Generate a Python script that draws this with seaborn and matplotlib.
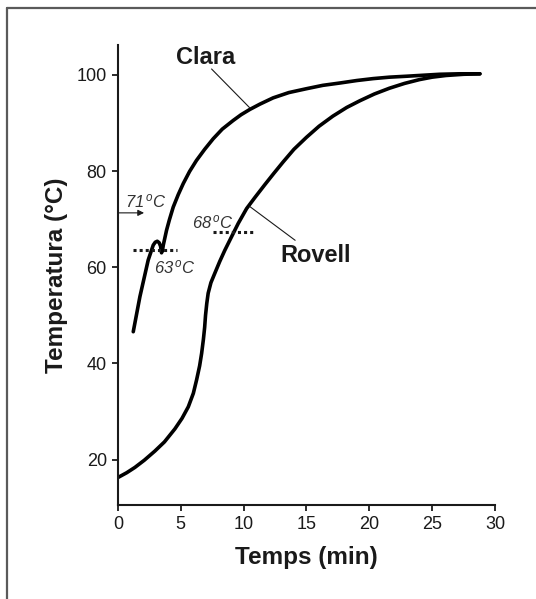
import numpy as np
import pandas as pd
import seaborn as sns
import matplotlib
matplotlib.use("Agg")
import matplotlib.pyplot as plt
from matplotlib.lines import Line2D

# ---- data ----
clara_t = [1.22, 1.75, 2.41, 2.81, 2.97, 3.13, 3.28, 3.39, 3.47, 3.55, 3.61, 3.87, 4.1, 4.4, 4.8,
           5.2, 5.7, 6.25, 6.9, 7.58, 8.3, 9.17, 9.8, 10.5, 11.3, 12.35, 13.6, 15.0, 16.3, 17.7,
           19.0, 20.3, 21.6, 23.0, 24.3, 25.6, 27.2, 28.8]
clara_T = [46.6, 53.9, 61.5, 64.6, 65.2, 65.4, 65.1, 64.4, 63.0, 63.6, 64.6, 67.7, 69.9, 72.5, 75.1,
           77.4, 79.9, 82.2, 84.5, 86.7, 88.7, 90.5, 91.7, 92.8, 93.9, 95.2, 96.3, 97.1, 97.8, 98.3,
           98.8, 99.2, 99.5, 99.7, 99.9, 100.1, 100.2, 100.2]
rovell_t = [0.0, 0.7, 1.35, 2.1, 2.94, 3.7, 4.53, 5.1, 5.6, 6.0, 6.26, 6.5, 6.66, 6.8, 6.9, 6.97,
            7.07, 7.18, 7.4, 7.7, 8.1, 8.5, 8.9, 9.57, 10.24, 10.9, 11.7, 12.4, 13.15, 14.0, 15.0,
            16.0, 17.1, 18.2, 19.25, 20.4, 21.6, 22.8, 24.0, 25.0, 26.1, 27.5, 28.8]
rovell_T = [16.3, 17.3, 18.4, 19.9, 21.8, 23.7, 26.4, 28.6, 31.0, 33.8, 36.6, 39.5, 42.1, 45.0, 47.5, 50.0,
            52.5, 54.6, 56.8, 58.7, 61.2, 63.5, 65.6, 69.1, 72.2, 74.5, 77.2, 79.5, 81.9, 84.5, 87.0,
            89.3, 91.4, 93.2, 94.6, 96.0, 97.2, 98.2, 99.0, 99.5, 99.85, 100.1, 100.2]
labels = ["Clara", "Rovell"]
x_ticks = [0, 5, 10, 15, 20, 25, 30]
y_ticks = [20, 40, 60, 80, 100]
mark_temps = [71, 63, 68]

df = pd.concat([
    pd.DataFrame({"Temps": clara_t, "Temp": clara_T, "serie": labels[0]}),
    pd.DataFrame({"Temps": rovell_t, "Temp": rovell_T, "serie": labels[1]}),
])

sns.set_theme(style="ticks")
plt.rcParams["font.family"] = ["Liberation Sans", "DejaVu Sans"]
plt.rcParams["mathtext.fontset"] = "custom"
plt.rcParams["mathtext.it"] = "Liberation Sans:italic"
plt.rcParams["mathtext.rm"] = "Liberation Sans"

INK = "#1a1a1a"
fig = plt.figure(figsize=(5.36, 5.99), dpi=100)
ax = fig.add_axes([0.220, 0.157, 0.7035, 0.768])

sns.lineplot(data=df, x="Temps", y="Temp", units="serie", estimator=None, sort=False,
             color="black", lw=2.6, ax=ax, legend=False)
for ln in ax.get_lines():
    ln.set_solid_joinstyle("round")
    ln.set_solid_capstyle("round")

ax.set_xlim(0, 30)
ax.set_ylim(10.6, 106.2)
ax.set_xticks(x_ticks)
ax.set_yticks(y_ticks)
ax.tick_params(axis="both", labelsize=13, length=4, width=1.3, color=INK, labelcolor=INK, pad=4)
sns.despine(ax=ax)
for s in ["left", "bottom"]:
    ax.spines[s].set_linewidth(1.5)
    ax.spines[s].set_color(INK)

ax.set_xlabel("Temps (min)", fontsize=17.5, fontweight="bold", color=INK, labelpad=9)
ax.set_ylabel("Temperatura (°C)", fontsize=17.5, fontweight="bold", color=INK, labelpad=6)

# series labels with leader lines
ax.text(7.0, 103.5, labels[0], fontsize=17, fontweight="bold", color=INK, ha="center", va="center")
ax.plot([7.45, 10.5], [101.2, 93.1], color=INK, lw=0.8)
ax.text(15.7, 62.5, labels[1], fontsize=17, fontweight="bold", color=INK, ha="center", va="center")
ax.plot([14.1, 10.5], [65.6, 72.6], color=INK, lw=0.8)

def deg(v):
    return "%d$\\,^{\\mathit{o}}$C" % v

# 71 °C arrow
ax.annotate("", xy=(2.3, mark_temps[0] + 0.3), xytext=(-0.25, mark_temps[0] + 0.3),
            arrowprops=dict(arrowstyle="-|>", color=INK, lw=0.8, mutation_scale=9),
            annotation_clip=False)
ax.text(2.25, 73.8, deg(mark_temps[0]), fontsize=12, style="italic",
        color="#333333", ha="center", va="center")

# 63 °C dotted
ax.plot([1.22, 4.67], [63.5, 63.5], color=INK, lw=2.2, linestyle=(0, (1, 1)))
ax.text(4.55, 59.9, deg(mark_temps[1]), fontsize=12, style="italic",
        color="#333333", ha="center", va="center")

# 68 °C dotted
ax.plot([7.57, 10.9], [67.3, 67.3], color=INK, lw=2.2, linestyle=(0, (1, 1)))
ax.text(7.6, 69.3, deg(mark_temps[2]), fontsize=12, style="italic",
        color="#333333", ha="center", va="center")

# partial frame (left and top) around the figure
fig.add_artist(Line2D([0.013, 0.013], [0, 0.9866], transform=fig.transFigure, color="#5a5a5a", lw=1.6))
fig.add_artist(Line2D([0.013, 1.0], [0.9866, 0.9866], transform=fig.transFigure, color="#5a5a5a", lw=1.6))

fig.savefig("out.png", dpi=100)
